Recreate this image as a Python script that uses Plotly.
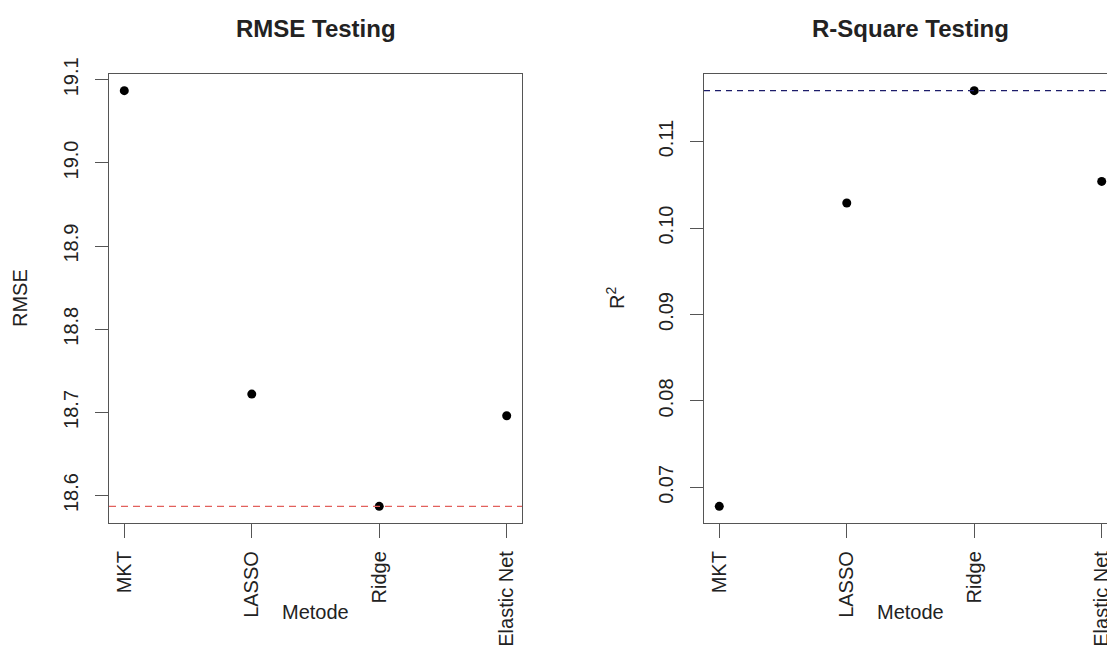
import plotly.graph_objects as go

# ---- data ----
methods = ["MKT", "LASSO", "Ridge", "Elastic Net"]
rmse_values = [19.087, 18.722, 18.587, 18.696]
r2_values = [0.0678, 0.1029, 0.1159, 0.1054]
rmse_ticks = [18.6, 18.7, 18.8, 18.9, 19.0, 19.1]
rmse_ticktext = ["18.6", "18.7", "18.8", "18.9", "19.0", "19.1"]
r2_ticks = [0.07, 0.08, 0.09, 0.10, 0.11]
r2_ticktext = ["0.07", "0.08", "0.09", "0.10", "0.11"]

W, H = 1115, 648
OFF = 8  # page body margin offset
FONT = "Liberation Sans, Arial, sans-serif"
TXT = "#222222"
AX = "#555555"


def px(v):
    return (v - OFF) / W


def py(v):
    return 1 - (v - OFF) / H


def r_range(vals):
    lo, hi = min(vals), max(vals)
    d = hi - lo
    return [lo - 0.04 * d, hi + 0.04 * d]


fig = go.Figure()

fig.add_trace(go.Scatter(x=methods, y=rmse_values, mode="markers",
                         marker=dict(color="black", size=9),
                         xaxis="x", yaxis="y", showlegend=False))
fig.add_trace(go.Scatter(x=methods, y=r2_values, mode="markers",
                         marker=dict(color="black", size=9),
                         xaxis="x2", yaxis="y2", showlegend=False))

ydom = [py(523), py(74)]

common_x = dict(type="category", showgrid=False, zeroline=False,
                showline=True, linecolor=AX, linewidth=1.3, mirror=True,
                ticks="outside", ticklen=14, tickcolor=AX, tickwidth=1.3,
                tickangle=-90, tickfont=dict(family=FONT, size=20, color=TXT),
                ticklabelstandoff=5, automargin=False, range=[-0.12, 3.12])
common_y = dict(showgrid=False, zeroline=False, showline=True, linecolor=AX,
                linewidth=1.3, ticks="outside", ticklen=13, tickcolor=AX,
                tickwidth=1.3, tickangle=-90, automargin=False, mirror=True,
                ticklabelstandoff=9,
                tickfont=dict(family=FONT, size=20, color=TXT))

fig.update_layout(
    width=W, height=H,
    margin=dict(l=0, r=0, t=0, b=0, autoexpand=False),
    paper_bgcolor="white", plot_bgcolor="white",
    xaxis=dict(domain=[px(109), px(522)], anchor="y", **common_x),
    yaxis=dict(domain=ydom, range=r_range(rmse_values), anchor="x",
               tickvals=rmse_ticks, ticktext=rmse_ticktext, **common_y),
    xaxis2=dict(domain=[px(704), px(1117)], anchor="y2", **common_x),
    yaxis2=dict(domain=ydom, range=r_range(r2_values), anchor="x2",
                tickvals=r2_ticks, ticktext=r2_ticktext, **common_y),
)

# reference lines at best values
fig.add_shape(type="line", xref="x domain", yref="y", x0=0, x1=1,
              y0=min(rmse_values), y1=min(rmse_values),
              line=dict(color="#e2605c", width=1.3, dash="7px,5px"))
fig.add_shape(type="line", xref="x2 domain", yref="y2", x0=0, x1=1,
              y0=max(r2_values), y1=max(r2_values),
              line=dict(color="#1c1c6a", width=1.3, dash="6px,5px"))

ann = []
# titles
ann.append(dict(text="<b>RMSE Testing</b>", xref="x domain", yref="paper",
                x=0.5, y=py(28), showarrow=False, xanchor="center",
                yanchor="middle", font=dict(family=FONT, size=24, color=TXT)))
ann.append(dict(text="<b>R-Square Testing</b>", xref="x2 domain",
                yref="paper", x=0.5, y=py(28), showarrow=False,
                xanchor="center", yanchor="middle",
                font=dict(family=FONT, size=24, color=TXT)))
# x axis titles
ann.append(dict(text="Metode", xref="x domain", yref="paper", x=0.5,
                y=py(612), showarrow=False, xanchor="center",
                yanchor="middle", font=dict(family=FONT, size=20, color=TXT)))
ann.append(dict(text="Metode", xref="x2 domain", yref="paper", x=0.5,
                y=py(612), showarrow=False, xanchor="center",
                yanchor="middle", font=dict(family=FONT, size=20, color=TXT)))
# y axis titles
ann.append(dict(text="RMSE", xref="paper", yref="paper", x=px(20),
                y=py(298), showarrow=False, textangle=-90,
                xanchor="center", yanchor="middle",
                font=dict(family=FONT, size=20, color=TXT)))
ann.append(dict(text="R<sup>2</sup>", xref="paper", yref="paper",
                x=px(615), y=py(298), showarrow=False, textangle=-90,
                xanchor="center", yanchor="middle",
                font=dict(family=FONT, size=20, color=TXT)))
fig.update_layout(annotations=ann)

fig.write_html("out.html")
